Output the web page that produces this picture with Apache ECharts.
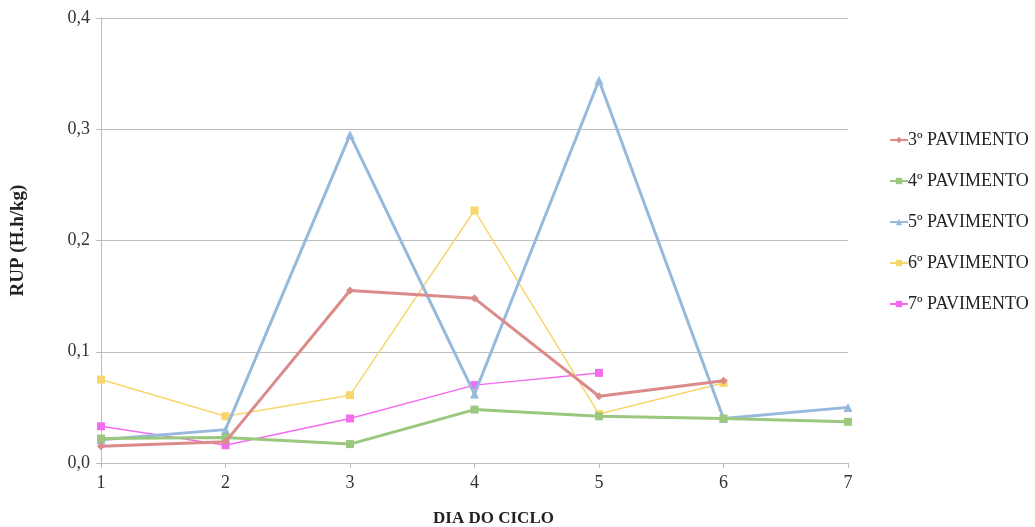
<!DOCTYPE html>
<html><head><meta charset="utf-8">
<script src="https://cdn.jsdelivr.net/npm/echarts@6/dist/echarts.min.js"></script>
<style>html,body{margin:0;padding:0;background:#fff}#c{width:1035px;height:527px}</style>
</head><body><div id="c"></div>
<script>
const days = [1, 2, 3, 4, 5, 6, 7];
const yTicks = ['0,0', '0,1', '0,2', '0,3', '0,4'];
const seriesNames = ['3º PAVIMENTO', '4º PAVIMENTO', '5º PAVIMENTO', '6º PAVIMENTO', '7º PAVIMENTO'];
const pav3 = [0.015, 0.019, 0.155, 0.148, 0.060, 0.074, null];
const pav4 = [0.022, 0.023, 0.017, 0.048, 0.042, 0.040, 0.037];
const pav5 = [0.021, 0.030, 0.295, 0.062, 0.344, 0.040, 0.050];
const pav6 = [0.075, 0.042, 0.061, 0.227, 0.044, 0.072, null];
const pav7 = [0.033, 0.016, 0.040, 0.070, 0.081, null, null];

const colors = ['#DA8B8A', '#9BC77E', '#96B9DC', '#F9D66C', '#F46CEF'];
const symbols = ['diamond', 'rect', 'triangle', 'rect', 'rect'];
const symSizes = [8, 8, 9, 8, 8];
const widths = [3, 3, 3, 1.5, 1.5];
const values = [pav3, pav4, pav5, pav6, pav7];

const font = '"Liberation Serif", "DejaVu Serif", serif';
const chart = echarts.init(document.getElementById('c'));
chart.setOption({
  animation: false,
  grid: {left: 101, right: 187, top: 18, bottom: 64, containLabel: false, outerBoundsMode: 'none'},
  legend: {
    orient: 'vertical', left: 884, top: 126, itemGap: 23, itemWidth: 18, itemHeight: 8,
    textStyle: {fontFamily: font, fontSize: 18, color: '#222', padding: [0, 0, 0, -5]},
    data: seriesNames
  },
  xAxis: {
    type: 'value', min: 1, max: 7, interval: 1,
    name: 'DIA DO CICLO', nameLocation: 'middle', nameGap: 47,
    nameTextStyle: {fontFamily: font, fontSize: 17, fontWeight: 'bold', color: '#222', padding: [0, 0, 0, 38]},
    axisLine: {lineStyle: {color: '#bdbdbd'}},
    axisTick: {show: true, length: 5, lineStyle: {color: '#bdbdbd'}},
    axisLabel: {fontFamily: font, fontSize: 18, color: '#333', margin: 11},
    splitLine: {show: false}
  },
  yAxis: {
    type: 'value', min: 0, max: 0.4, interval: 0.1,
    name: 'RUP (H.h/kg)', nameLocation: 'middle', nameGap: 73, nameRotate: 90,
    nameTextStyle: {fontFamily: font, fontSize: 19, fontWeight: 'bold', color: '#222'},
    axisLine: {show: true, lineStyle: {color: '#bdbdbd'}},
    axisTick: {show: true, length: 5, lineStyle: {color: '#bdbdbd'}},
    axisLabel: {fontFamily: font, fontSize: 18, color: '#333', margin: 11,
      formatter: (v) => yTicks[Math.round(v * 10)]},
    splitLine: {lineStyle: {color: '#bdbdbd', width: 1}}
  },
  series: seriesNames.map((n, i) => ({
    name: n, type: 'line',
    data: days.map((d, j) => values[i][j] == null ? null : [d, values[i][j]]).filter(p => p),
    symbol: symbols[i], symbolSize: symSizes[i], showSymbol: true,
    lineStyle: {color: colors[i], width: widths[i]},
    itemStyle: {color: colors[i]},
    z: 10 - i
  }))
});
</script></body></html>
